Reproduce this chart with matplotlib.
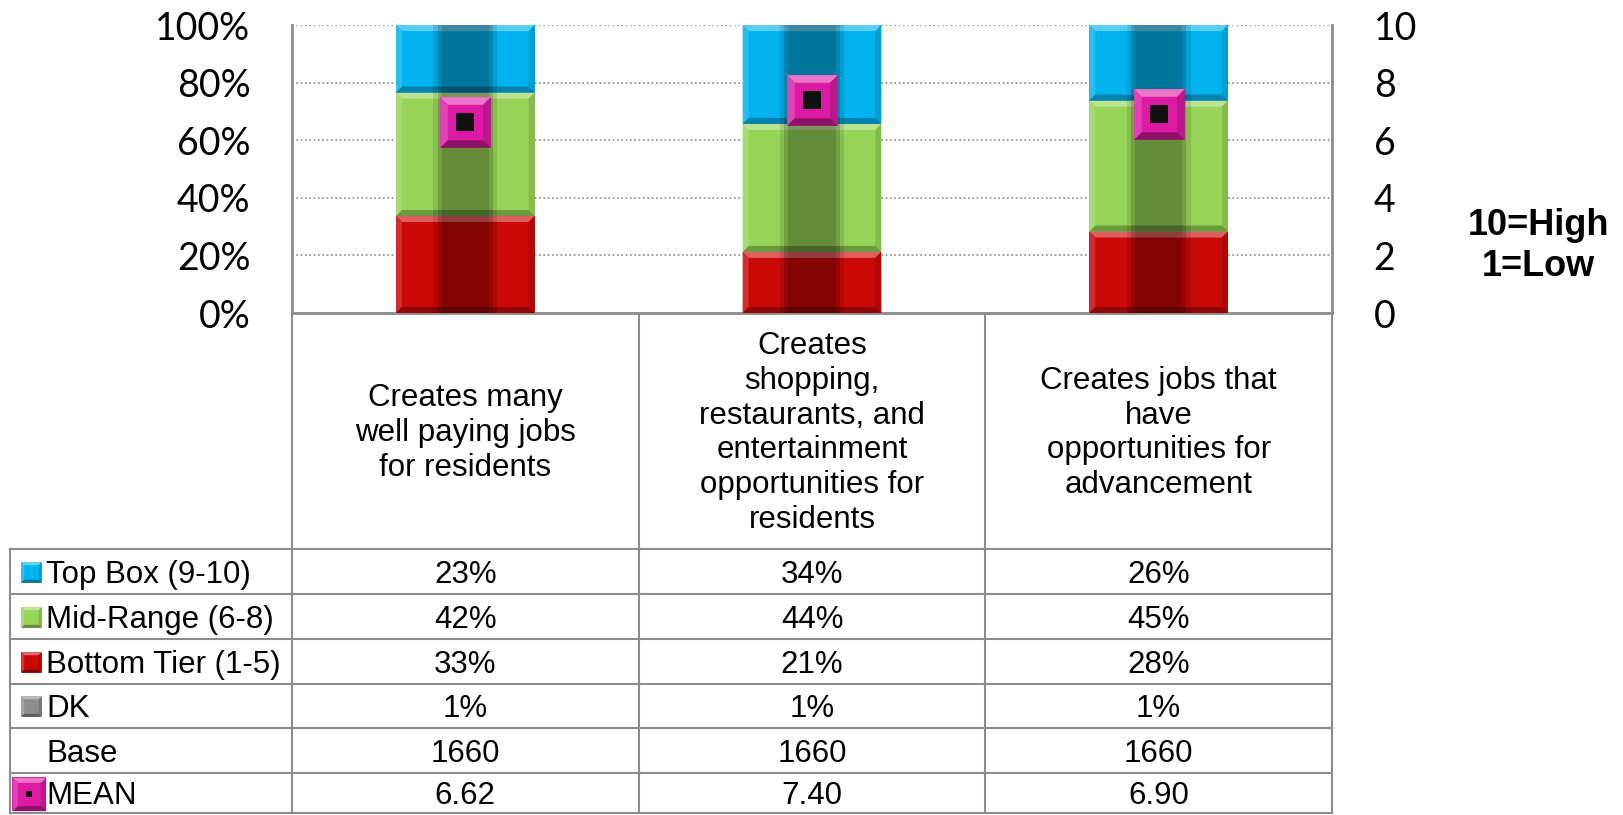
import matplotlib
matplotlib.use("Agg")
import matplotlib.pyplot as plt
import numpy as np
from matplotlib.path import Path
from matplotlib.patches import Polygon
from matplotlib.colors import to_rgb

# ---- data ---------------------------------------------------------------
categories = [
    "Creates many\nwell paying jobs\nfor residents",
    "Creates\nshopping,\nrestaurants, and\nentertainment\nopportunities for\nresidents",
    "Creates jobs that\nhave\nopportunities for\nadvancement",
]
top_box = [23, 34, 26]
mid_range = [42, 44, 45]
bottom_tier = [33, 21, 28]
dont_know = [1, 1, 1]
base = [1660, 1660, 1660]
mean = [6.62, 7.40, 6.90]

row_labels = ["Top Box (9-10)", "Mid-Range (6-8)", "Bottom Tier (1-5)", "DK", "Base", "MEAN"]
pct_ticks = [0, 20, 40, 60, 80, 100]
mean_ticks = [0, 2, 4, 6, 8, 10]
scale_note = "10=High\n1=Low"

# ---- styling ------------------------------------------------------------
CYAN = "#00B3EE"
GREEN = "#97D457"
RED = "#CA0808"
DKGRAY = "#8E8E8E"
MAGENTA = "#DC1AA3"
LINE = "#8C8C8C"
TXT_FONT = "Liberation Sans"
AX_FONT = "Lato"

W, H, DPI = 1623, 815, 100
X0, X1, Y0, Y1 = 292, 1332, 25, 313          # plot box in pixels (top-left origin)
ROW_EDGES = [549, 594, 639, 684, 728, 773, 813]
TABLE_LEFT = 10
BAR_W = 0.40


def mix(c, other, t):
    a = np.array(to_rgb(c))
    b = np.array(to_rgb(other))
    return tuple(a * (1 - t) + b * t)


fig = plt.figure(figsize=(W / DPI, H / DPI), dpi=DPI)
fig.patch.set_facecolor("white")

# overlay in pixel coordinates for the data table
tab = fig.add_axes([0, 0, 1, 1])
tab.set_xlim(0, W)
tab.set_ylim(H, 0)
tab.axis("off")
tab.set_zorder(0)

ax = fig.add_axes([X0 / W, 1 - Y1 / H, (X1 - X0) / W, (Y1 - Y0) / H])
ax.set_zorder(1)
ax.patch.set_alpha(0)
n = len(categories)
ax.set_xlim(-0.5, n - 0.5)
ax.set_ylim(0, 100)
ax2 = ax.twinx()
ax2.set_ylim(0, 10)

# 100% stacked shares of the three tiers
tot = np.array(top_box) + np.array(mid_range) + np.array(bottom_tier)
bot_s = np.array(bottom_tier) / tot * 100
mid_s = np.array(mid_range) / tot * 100
top_s = np.array(top_box) / tot * 100

xs = np.arange(n)
px_x = (X1 - X0) / n
px_y = (Y1 - Y0) / 100.0
bx, by = 6 / px_x, 6 / px_y

segments = [
    (bot_s, np.zeros(n), RED),
    (mid_s, bot_s, GREEN),
    (top_s, bot_s + mid_s, CYAN),
]
for vals, bottoms, col in segments:
    bars = ax.bar(xs, vals, bottom=bottoms, width=BAR_W, color=col, edgecolor="none", zorder=2)
    for r in bars:
        x0, y0 = r.get_x(), r.get_y()
        x1, y1 = x0 + r.get_width(), y0 + r.get_height()
        bevels = [
            ([(x0, y1), (x1, y1), (x1 - bx, y1 - by), (x0 + bx, y1 - by)], mix(col, "white", 0.35)),
            ([(x0, y0), (x0, y1), (x0 + bx, y1 - by), (x0 + bx, y0 + by)], mix(col, "white", 0.15)),
            ([(x1, y0), (x1, y1), (x1 - bx, y1 - by), (x1 - bx, y0 + by)], mix(col, "black", 0.12)),
            ([(x0, y0), (x1, y0), (x1 - bx, y0 + by), (x0 + bx, y0 + by)], mix(col, "black", 0.28)),
        ]
        for pts, shade in bevels:
            ax.add_patch(Polygon(pts, closed=True, fc=shade, ec="none", zorder=3))
        # darker central band
        xc = (x0 + x1) / 2
        w = x1 - x0
        for frac, alpha in [(0.46, 0.10), (0.40, 0.16), (0.34, 0.12)]:
            ax.add_patch(Polygon([(xc - w * frac / 2, y0), (xc + w * frac / 2, y0),
                                  (xc + w * frac / 2, y1), (xc - w * frac / 2, y1)],
                                 closed=True, fc="black", alpha=alpha, ec="none", zorder=4))

# bevelled square markers
I = 0.70
SQ = Path([(-1, -1), (1, -1), (1, 1), (-1, 1), (-1, -1)], closed=True)
TOP = Path([(-1, 1), (1, 1), (I, I), (-I, I), (-1, 1)], closed=True)
LEFT = Path([(-1, -1), (-1, 1), (-I, I), (-I, -I), (-1, -1)], closed=True)
RIGHT = Path([(1, -1), (1, 1), (I, I), (I, -I), (1, -1)], closed=True)
BOTTOM = Path([(-1, -1), (1, -1), (I, -I), (-I, -I), (-1, -1)], closed=True)


def bevel_marker(axis, x, y, size, color, z, dot=None):
    parts = [(SQ, color), (TOP, mix(color, "white", 0.40)), (LEFT, mix(color, "white", 0.18)),
             (RIGHT, mix(color, "black", 0.15)), (BOTTOM, mix(color, "black", 0.35))]
    for p, shade in parts:
        axis.plot(x, y, ls="none", marker=p, ms=size, mfc=shade, mec="none", mew=0,
                  zorder=z, clip_on=False)
    if dot:
        axis.plot(x, y, ls="none", marker="s", ms=dot, mfc="#111111", mec="none", mew=0,
                  zorder=z + 1, clip_on=False)


bevel_marker(ax2, xs, mean, 36.5, MAGENTA, 5, dot=13.5)

# axes styling
ax.set_xticks([])
ax.set_yticks(pct_ticks)
ax.set_yticklabels([f"{t}%" for t in pct_ticks])
ax2.set_yticks(mean_ticks)
ax2.set_yticklabels([str(t) for t in mean_ticks])
for a in (ax, ax2):
    a.tick_params(axis="y", length=0, pad=30, labelsize=27)
    for lab in a.get_yticklabels():
        lab.set_fontfamily(AX_FONT)
ax.yaxis.grid(True, linestyle=(0, (1, 1.6)), color="#8a8a8a", lw=1.2)
ax.set_axisbelow(True)
ax.spines["top"].set_visible(False)
for s in ["left", "right", "bottom"]:
    ax.spines[s].set_color(LINE)
    ax.spines[s].set_linewidth(2.0)
for s in ax2.spines.values():
    s.set_visible(False)

# ---- table --------------------------------------------------------------
col_edges = [X0 + i * (X1 - X0) / n for i in range(n + 1)]
lw = 1.5
for xe in col_edges:
    tab.plot([xe, xe], [Y1, ROW_EDGES[-1]], color=LINE, lw=lw, zorder=1)
tab.plot([TABLE_LEFT, TABLE_LEFT], [ROW_EDGES[0], ROW_EDGES[-1]], color=LINE, lw=lw, zorder=1)
for ye in ROW_EDGES:
    tab.plot([TABLE_LEFT, X1], [ye, ye], color=LINE, lw=lw, zorder=1)

FS = 22.5
cap = 0.716 * FS * DPI / 72
header_mid = (Y1 + ROW_EDGES[0]) / 2
for i, cat in enumerate(categories):
    xc = (col_edges[i] + col_edges[i + 1]) / 2
    tab.text(xc, header_mid + 2, cat, ha="center", va="center", fontsize=FS,
             family=TXT_FONT, linespacing=1.2)

rows = [
    [f"{v}%" for v in top_box],
    [f"{v}%" for v in mid_range],
    [f"{v}%" for v in bottom_tier],
    [f"{v}%" for v in dont_know],
    [f"{v}" for v in base],
    [f"{v:.2f}" for v in mean],
]
icon_colors = [CYAN, GREEN, RED, DKGRAY, None, MAGENTA]
for r, (lab, vals) in enumerate(zip(row_labels, rows)):
    yc = (ROW_EDGES[r] + ROW_EDGES[r + 1]) / 2
    yb = yc + cap / 2
    tab.text(46, yb, lab, ha="left", va="baseline", fontsize=FS, family=TXT_FONT)
    for i, v in enumerate(vals):
        xc = (col_edges[i] + col_edges[i + 1]) / 2
        tab.text(xc, yb, v, ha="center", va="baseline", fontsize=FS, family=TXT_FONT)
    ic = icon_colors[r]
    if ic == MAGENTA:
        bevel_marker(tab, [28.5], [yc + 1], 24, ic, 3, dot=5)
    elif ic is not None:
        bevel_marker(tab, [31], [yc], 15, ic, 3)

tab.text(1538, 246, scale_note, ha="center", va="center", fontsize=26, fontweight="bold",
         family=TXT_FONT, linespacing=1.2)

fig.savefig("out.png", dpi=DPI, facecolor="white")
